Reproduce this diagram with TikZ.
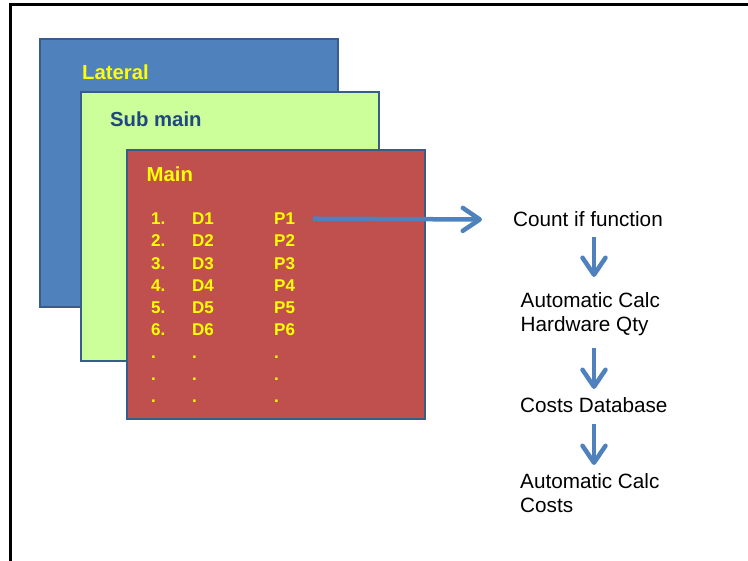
\documentclass[tikz,border=0pt]{standalone}
\usepackage{fontspec}
\setmainfont{Liberation Sans}
\usepackage{xcolor}
\usepackage{tikz}
\usetikzlibrary{arrows.meta, positioning}

\definecolor{lateralblue}{HTML}{4F81BD}
\definecolor{edgeblue}{HTML}{385D8A}
\definecolor{submaingreen}{HTML}{CCFF99}
\definecolor{mainred}{HTML}{C0504D}
\definecolor{markyellow}{HTML}{FFFF00}
\definecolor{marknavy}{HTML}{1F497D}

\begin{document}
\begin{tikzpicture}[x=1pt, y=-1pt, >={Straight Barb[length=17pt, width=23pt, round]}]
		\tikzstyle{layer} = [draw=edgeblue, line width=2pt, rectangle, anchor=north west, inner sep=0pt]
		\tikzstyle{title} = [anchor=base west, inner sep=0pt, font=\fontsize{20.3}{24}\selectfont\bfseries]
		\tikzstyle{entry} = [anchor=base west, inner sep=0pt, text=markyellow, font=\fontsize{17}{20}\selectfont\bfseries]
		\tikzstyle{stage} = [anchor=base west, inner sep=0pt, align=left, font=\fontsize{20.7}{24}\selectfont]
		\tikzstyle{flow} = [->, draw=lateralblue, line width=4.5pt]
		
		\useasboundingbox (0, 0) rectangle (748, 561);
		\draw[line width=3pt] (10.5, 561) -- (10.5, 4.5) -- (748, 4.5);
		
		% stacked sheets
		\node[layer, fill=lateralblue, minimum width=298.5pt, minimum height=268.5pt] 	at (38.5, 38) 	(lateral) 	{};
		\node[layer, fill=submaingreen, minimum width=298pt, minimum height=269pt] 	at (80, 91) 	(submain) 	{};
		\node[layer, fill=mainred, minimum width=298pt, minimum height=268.5pt] 	at (126, 149.5) 	(main) 	{};
		
		\node[title, text=markyellow] 	at (82, 80) 	(tlateral) 	{Lateral};
		\node[title, text=marknavy] 	at (110, 126.5) 	(tsubmain) 	{Sub main};
		\node[title, text=markyellow] 	at (146.5, 182) 	(tmain) 	{Main};
		
		% list on the main sheet
		\foreach \i in {1,...,6} {
			\node[entry] 	at (151, {202.2+22.3*\i}) 	(n\i) 	{\i.};
			\node[entry] 	at (192, {202.2+22.3*\i}) 	(d\i) 	{D\i};
			\node[entry] 	at (274, {202.2+22.3*\i}) 	(p\i) 	{P\i};
		}
		\foreach \i in {7,8,9} {
			\node[entry] 	at (151, {202.2+22.3*\i}) 	(n\i) 	{.};
			\node[entry] 	at (192, {202.2+22.3*\i}) 	(d\i) 	{.};
			\node[entry] 	at (274, {202.2+22.3*\i}) 	(p\i) 	{.};
		}
		
		% calculation chain
		\node[stage] 	at (513, 227) 	(count) 	{Count if function};
		\node[stage] 	at (520.5, 332) 	(hwqty) 	{Automatic Calc\\Hardware Qty};
		\node[stage] 	at (520, 412.7) 	(database) 	{Costs Database};
		\node[stage] 	at (520, 513) 	(costs) 	{Automatic Calc\\Costs};
		
		\coordinate (c1) at (594, 237);
		\coordinate (c2) at (594, 277);
		\coordinate (c3) at (594, 348);
		\coordinate (c4) at (594, 389);
		\coordinate (c5) at (594, 424);
		\coordinate (c6) at (594, 465);
		
		\draw[flow, shorten <=18pt, shorten >=31pt] (p1.east) -- (count.west);
		\draw[flow] (c1) -- (c2);
		\draw[flow] (c3) -- (c4);
		\draw[flow] (c5) -- (c6);
		\end{tikzpicture}
\end{document}
